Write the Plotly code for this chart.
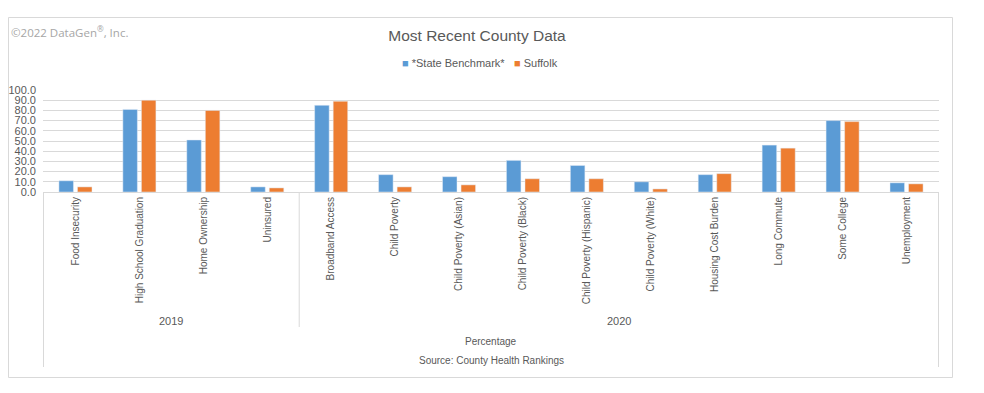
import plotly.graph_objects as go

categories = ["Food Insecurity", "High School Graduation", "Home Ownership", "Uninsured",
              "Broadband Access", "Child Poverty", "Child Poverty (Asian)", "Child Poverty (Black)",
              "Child Poverty (Hispanic)", "Child Poverty (White)", "Housing Cost Burden",
              "Long Commute", "Some College", "Unemployment"]
year_groups = ["2019", "2020"]
group_sizes = [4, 10]
state_benchmark = [11, 81, 51, 5, 85, 17, 15, 31, 26, 10, 17, 46, 70, 9]
suffolk = [5, 90, 80, 4, 89, 5, 7, 13, 13, 3, 18, 43, 69, 8]
y_ticks = [0, 10, 20, 30, 40, 50, 60, 70, 80, 90, 100]

BLUE = "#5B9BD5"
ORANGE = "#ED7D31"
GRID = "#D9D9D9"
TXT = "#595959"
FONT = "Liberation Sans, Arial, sans-serif"

OFF = 8  # page body margin
W, H = 984 - OFF, 393 - OFF
L = 43 - OFF
T = 90 - OFF
R = W - (939 - OFF)
B = H - (192 - OFF)
pw, ph = W - L - R, H - T - B


def px_x(p):
    return (p - OFF - L) / pw


def px_y(p):
    return (H - B - (p - OFF)) / ph


fig = go.Figure()
fig.add_trace(go.Bar(x=categories, y=state_benchmark, name="*State Benchmark*",
                     marker_color=BLUE, showlegend=False))
fig.add_trace(go.Bar(x=categories, y=suffolk, name="Suffolk",
                     marker_color=ORANGE, showlegend=False))

shapes = []
shapes.append(dict(type="rect", xref="paper", yref="paper",
                   x0=px_x(OFF + 0.5), x1=px_x(952.5), y0=px_y(377.5), y1=px_y(17.5),
                   line=dict(color=GRID, width=1), fillcolor="rgba(0,0,0,0)", layer="below"))
shapes.append(dict(type="line", xref="x", yref="paper", x0=-0.5, x1=-0.5,
                   y0=0, y1=px_y(367), line=dict(color=GRID, width=1)))
shapes.append(dict(type="line", xref="x", yref="paper", x0=len(categories) - 0.5, x1=len(categories) - 0.5,
                   y0=0, y1=px_y(367), line=dict(color=GRID, width=1)))
pos = -0.5
annotations = []
for i, (g, n) in enumerate(zip(year_groups, group_sizes)):
    start = pos
    pos += n
    if i < len(year_groups) - 1:
        shapes.append(dict(type="line", xref="x", yref="paper", x0=pos, x1=pos,
                           y0=0, y1=px_y(327), line=dict(color=GRID, width=1)))
    annotations.append(dict(x=(start + pos) / 2, xref="x", y=px_y(321), yref="paper",
                            text=g, showarrow=False, font=dict(size=11, color=TXT, family=FONT),
                            xanchor="center", yanchor="middle"))

annotations += [
    dict(x=0.5, xref="paper", y=px_y(341), yref="paper", text="Percentage", showarrow=False,
         font=dict(size=10, color=TXT, family=FONT), xanchor="center", yanchor="middle"),
    dict(x=0.5, xref="paper", y=px_y(360), yref="paper", text="Source: County Health Rankings",
         showarrow=False, font=dict(size=10, color=TXT, family=FONT), xanchor="center", yanchor="middle"),
    dict(x=px_x(9), xref="paper", y=px_y(31), yref="paper", text="©2022 DataGen<sup>®</sup>, Inc.",
         showarrow=False, font=dict(size=11.5, color="#A6A6A6", family="Open Sans, " + FONT),
         xanchor="left", yanchor="middle"),
    dict(x=px_x(400), xref="paper", y=px_y(63), yref="paper",
         text="<span style='color:%s'>■</span> *State Benchmark*" % BLUE,
         showarrow=False, font=dict(size=11, color=TXT, family=FONT), xanchor="left", yanchor="middle"),
    dict(x=px_x(512), xref="paper", y=px_y(63), yref="paper",
         text="<span style='color:%s'>■</span> Suffolk" % ORANGE,
         showarrow=False, font=dict(size=11, color=TXT, family=FONT), xanchor="left", yanchor="middle"),
]

fig.update_layout(
    width=W, height=H,
    margin=dict(l=L, r=R, t=T, b=B, autoexpand=False),
    paper_bgcolor="white", plot_bgcolor="white",
    title=dict(text="Most Recent County Data", x=(477 - OFF) / W, xanchor="center",
               y=1 - (36 - OFF) / H, yanchor="middle", font=dict(size=15.5, color=TXT, family=FONT)),
    barmode="group", bargap=0.42, bargroupgap=0.216,
    shapes=shapes, annotations=annotations,
    xaxis=dict(type="category", tickangle=-90, tickfont=dict(size=10, color=TXT, family=FONT),
               showgrid=False, showline=True, linecolor=GRID, linewidth=1, ticks="",
               automargin=False, fixedrange=True),
    yaxis=dict(range=[0, 100], tickvals=y_ticks, tickformat=".1f",
               tickfont=dict(size=11, color=TXT, family=FONT), ticklabelstandoff=6,
               showgrid=True, gridcolor=GRID, gridwidth=1, zeroline=False, showline=False,
               ticks="", automargin=False, fixedrange=True),
)

fig.write_html("out.html")
